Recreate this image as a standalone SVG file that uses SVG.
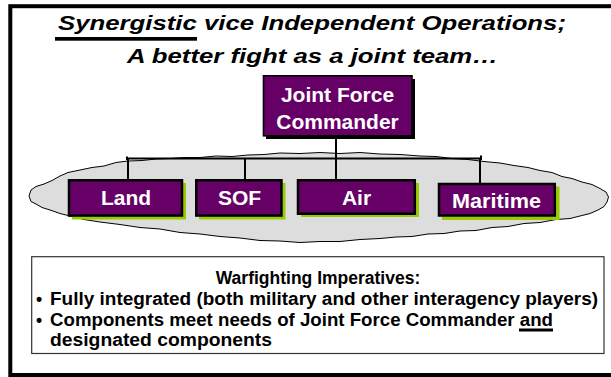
<svg xmlns="http://www.w3.org/2000/svg" width="611" height="377" viewBox="0 0 611 377">
<style>
.t{font-family:"Liberation Sans",Arial,Helvetica,sans-serif;font-weight:bold}
.title{font-size:21px;font-style:italic;fill:#000}
.box{fill:#660066;stroke:#000;stroke-width:2.5}
.sh{fill:#99cc00}
.lbl{font-size:21px;fill:#fff;text-anchor:middle}
.body{font-size:17.5px;fill:#000}
.conn{stroke:#000;stroke-width:2;fill:none}
</style>
<rect x="10.3" y="6.2" width="620" height="368.8" fill="#fff" stroke="#000" stroke-width="4"/>
<g id="title">
<text class="t title" x="58" y="30" textLength="508" lengthAdjust="spacingAndGlyphs">Synergistic vice Independent Operations;</text>
<rect x="55" y="37" width="142" height="3.7" fill="#000"/>
<text class="t title" x="127" y="63" textLength="371" lengthAdjust="spacingAndGlyphs">A better fight as a joint team…</text>
</g>
<g id="cloud">
<path d="M29,196 L31,190 L36,186.5 L44,184 L52,180.5 L60,176 L68,172.5 L80,170 L92,167.5 L104,166 L116,162.5 L128,161 L142,160.5 L156,159 L170,158.5 L184,157.5 L200,157.5 L216,156 L232,156.5 L248,155 L264,154.5 L280,153 L300,153.5 L320,152.5 L340,153.5 L360,152.5 L380,154 L400,154.5 L420,156 L436,156.5 L452,158.5 L468,159.5 L484,161.5 L500,163 L514,165.5 L528,167.5 L540,170.5 L552,172.5 L562,176.5 L572,178.5 L582,182 L592,184.5 L600,188.5 L606,192 L608.5,197 L607,202 L604,206.5 L598,210 L590,213.5 L582,215.5 L570,218.5 L556,219.5 L540,222.5 L524,223.5 L508,226.5 L492,227.5 L476,230.5 L460,231 L444,233.5 L428,234 L412,236.5 L396,237 L380,238.5 L360,239.5 L340,241.5 L320,241.5 L300,242.5 L280,241 L260,240.5 L240,238 L220,236.5 L200,234 L180,232.5 L160,229 L140,227.5 L120,224.5 L100,222 L84,219.5 L70,216 L60,213.5 L50,210 L42,207.5 L36,204 L31,201.5 Z" fill="#dddddd" stroke="#000" stroke-width="1"/>
</g>
<g id="connectors">
<line class="conn" x1="127" y1="158.5" x2="481" y2="158.5"/>
<line class="conn" x1="127" y1="156.5" x2="127" y2="160"/>
<line class="conn" x1="481" y1="155.5" x2="481" y2="160"/>
<line class="conn" x1="128" y1="158.5" x2="128" y2="180"/>
<line class="conn" x1="245" y1="158.5" x2="245" y2="180"/>
<line class="conn" x1="336" y1="137" x2="336" y2="180"/>
<line class="conn" x1="480" y1="158.5" x2="480" y2="183"/>
</g>
<g id="jfc">
<rect x="266" y="79" width="149" height="60" fill="#000"/>
<rect x="263.5" y="75.8" width="148.5" height="60" fill="#660066" stroke="#000" stroke-width="1.6"/>
<text class="t lbl" x="337.5" y="101.7">Joint Force</text>
<text class="t lbl" x="337.5" y="129">Commander</text>
</g>
<g id="land">
<rect class="sh" x="72" y="183" width="114" height="36.5"/>
<rect class="box" x="69" y="180.25" width="113" height="35.3"/>
<text class="t lbl" x="126" y="205">Land</text>
</g>
<g id="sof">
<rect class="sh" x="199" y="183" width="86.5" height="36.5"/>
<rect class="box" x="196.25" y="180.25" width="85.2" height="35.3"/>
<text class="t lbl" x="239.5" y="205">SOF</text>
</g>
<g id="air">
<rect class="sh" x="301" y="183" width="118" height="34"/>
<rect class="box" x="298" y="180.25" width="116.8" height="33.5"/>
<text class="t lbl" x="356.5" y="205">Air</text>
</g>
<g id="maritime">
<rect class="sh" x="442" y="186.5" width="117.5" height="33.5"/>
<rect class="box" x="439" y="184" width="115.8" height="31.5"/>
<text class="t lbl" x="496.5" y="208" textLength="89" lengthAdjust="spacingAndGlyphs">Maritime</text>
</g>
<g id="imperatives">
<rect x="31.7" y="256.7" width="572.3" height="96.8" fill="#fff" stroke="#333" stroke-width="1.2"/>
<text class="t body" x="318" y="284" text-anchor="middle">Warfighting Imperatives:</text>
<text class="t body" x="36" y="305">•</text>
<text class="t body" x="50" y="305" textLength="548" lengthAdjust="spacingAndGlyphs">Fully integrated (both military and other interagency players)</text>
<text class="t body" x="36" y="326">•</text>
<text class="t body" x="50" y="326" textLength="503" lengthAdjust="spacingAndGlyphs">Components meet needs of Joint Force Commander and</text>
<rect x="519" y="328.5" width="34" height="3" fill="#000"/>
<text class="t body" x="50" y="346" textLength="222" lengthAdjust="spacingAndGlyphs">designated components</text>
</g>
</svg>
